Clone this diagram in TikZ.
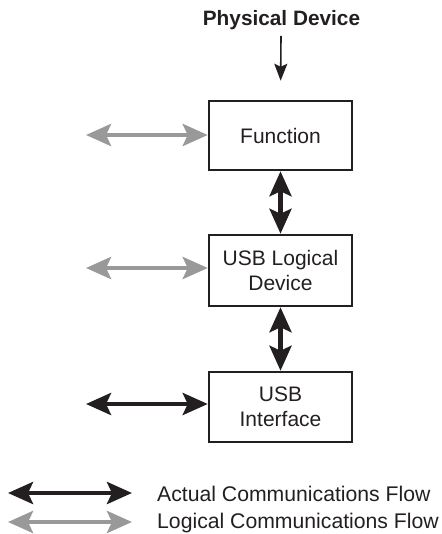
\documentclass[tikz,border=0pt]{standalone}
\usepackage{fontspec}
\setmainfont{Liberation Sans}
\usetikzlibrary{arrows.meta}
\definecolor{ink}{HTML}{231F20}
\definecolor{lgray}{HTML}{999999}
\begin{document}
\begin{tikzpicture}[x=1pt,y=-1pt,
  box/.style={draw=ink,line width=2.5pt,minimum width=143pt,minimum height=69pt,inner sep=0pt,align=center,font=\fontsize{21}{24.5}\selectfont,text=ink},
  actual/.style={draw=ink,line width=4.5pt,{Stealth[length=25pt,width=22pt,inset=5pt]}-{Stealth[length=25pt,width=22pt,inset=5pt]}},
  logical/.style={draw=lgray,line width=4.5pt,{Stealth[length=25pt,width=22pt,inset=5pt]}-{Stealth[length=25pt,width=22pt,inset=5pt]}},
  lbl/.style={anchor=west,inner sep=0pt,font=\fontsize{21.2}{24}\selectfont,text=ink}
]
\useasboundingbox (0,0) rectangle (441,534);
\node[font=\bfseries\fontsize{20.8}{24}\selectfont,text=ink] (pd) at (281.5,20) {Physical Device};
\node[box] (fn) at (280.5,135.5) {Function};
\node[box,minimum height=71pt] (ld) at (280.5,270.5) {USB Logical\\Device};
\node[box,minimum height=70pt] (ui) at (280.5,407) {USB\\Interface};
\coordinate (pdtop) at (281,36);
\draw[ink,line width=1.6pt,-{Stealth[length=17pt,width=13pt,inset=3pt]},shorten >=19pt] (pdtop) -- (fn.north);
\draw[actual] (fn.south) -- (ld.north);
\draw[actual] (ld.south) -- (ui.north);
\coordinate (g1) at (86,135);
\coordinate (g2) at (86,268);
\coordinate (b3) at (86,404);
\draw[logical] (g1) -- (g1 -| fn.west);
\draw[logical] (g2) -- (g2 -| ld.west);
\draw[actual] (b3) -- (b3 -| ui.west);
\node[lbl] (la) at (157,494) {Actual Communications Flow};
\node[lbl] (ll) at (157,523) {Logical Communications Flow};
\coordinate (a1) at (8,493);
\coordinate (a2) at (132,493);
\coordinate (c1) at (8,522);
\coordinate (c2) at (132,522);
\draw[actual] (a1) -- (a2);
\draw[logical] (c1) -- (c2);
\end{tikzpicture}
\end{document}
